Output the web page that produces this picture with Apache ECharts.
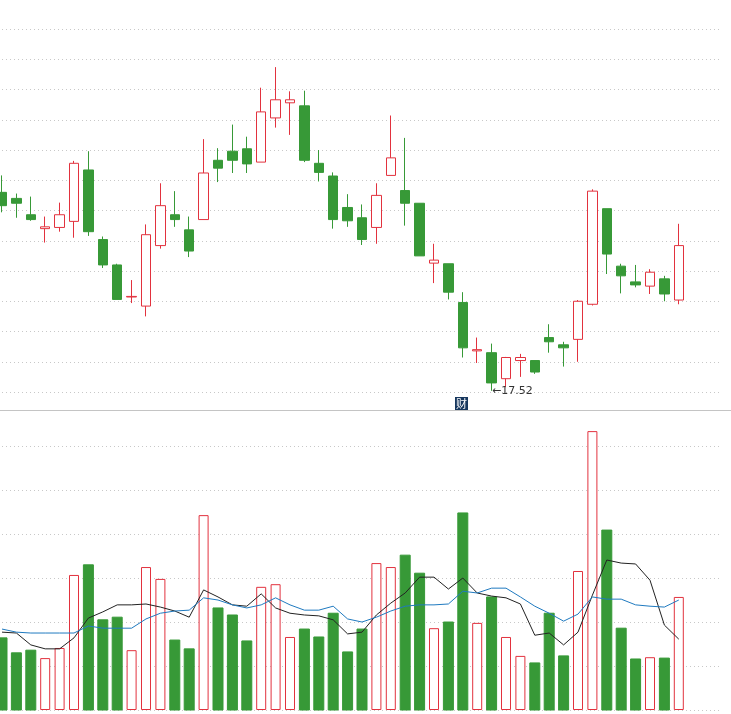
<!DOCTYPE html>
<html><head><meta charset="utf-8">
<script src="https://cdn.jsdelivr.net/npm/echarts@6/dist/echarts.min.js"></script>
<style>html,body{margin:0;padding:0;background:#fff}#c{width:731px;height:714px}</style>
</head><body><div id="c"></div>
<script>
// [open, close, low, high]
const candles = [
[20.80,20.58,20.47,21.08],[20.70,20.62,20.38,20.78],[20.43,20.35,20.33,20.73],[20.20,20.23,19.97,20.40],
[20.22,20.43,20.15,20.63],[20.32,21.28,20.05,21.32],[21.17,20.15,20.08,21.48],[20.02,19.60,19.55,20.07],
[19.60,19.03,19.03,19.62],[19.07,19.08,18.97,19.35],[18.92,20.10,18.75,20.27],[19.92,20.58,19.87,20.95],
[20.43,20.35,20.23,20.82],[20.18,19.83,19.73,20.40],[20.35,21.12,20.35,21.68],[21.33,21.20,20.97,21.53],
[21.48,21.33,21.12,21.92],[21.52,21.27,21.12,21.72],[21.30,22.13,21.30,22.53],[22.03,22.33,21.87,22.87],
[22.28,22.33,21.75,22.47],[22.23,21.33,21.30,22.48],[21.28,21.13,20.98,21.50],[21.07,20.35,20.20,21.13],
[20.55,20.33,20.23,20.77],[20.38,20.02,19.93,20.60],[20.22,20.75,19.95,20.95],[21.08,21.37,21.08,22.07],
[20.83,20.62,20.25,21.70],[20.62,19.75,19.75,20.62],[19.63,19.68,19.30,19.95],[19.62,19.15,19.03,19.62],
[18.98,18.23,18.07,19.15],[18.18,18.20,17.98,18.40],[18.15,17.65,17.52,18.30],[17.72,18.07,17.58,18.08],
[18.02,18.07,17.75,18.13],[18.02,17.83,17.80,18.02],[18.40,18.33,18.15,18.62],[18.28,18.23,17.92,18.33],
[18.37,19.00,18.00,19.02],[18.95,20.82,18.93,20.85],[20.53,19.78,19.45,20.53],[19.58,19.42,19.13,19.62],
[19.32,19.27,19.23,19.60],[19.25,19.48,19.12,19.53],[19.37,19.12,19.00,19.42],[19.02,19.92,18.95,20.28]
];
const volumes = [1.64,1.30,1.36,1.18,1.41,3.07,3.30,2.05,2.11,1.36,3.25,2.98,1.59,1.39,4.43,2.32,2.16,1.57,2.80,2.86,1.66,1.84,1.66,2.20,1.32,1.84,
3.34,3.25,3.52,3.11,1.86,2.00,4.48,1.98,2.57,1.66,1.23,1.07,2.20,1.23,3.16,6.34,4.09,1.86,1.16,1.20,1.18,2.57];
const volMA5 = [1.77,1.75,1.48,1.39,1.39,1.64,2.09,2.23,2.39,2.39,2.41,2.34,2.25,2.11,2.73,2.57,2.39,2.36,2.64,2.32,2.20,2.16,2.14,2.05,1.73,1.77,
2.16,2.43,2.66,3.02,3.02,2.75,3.00,2.66,2.59,2.55,2.41,1.70,1.75,1.48,1.77,2.61,3.41,3.34,3.32,2.95,1.93,1.61];
const volMA10 = [1.84,1.77,1.75,1.75,1.75,1.75,1.91,1.86,1.86,1.86,2.07,2.20,2.25,2.27,2.55,2.50,2.39,2.32,2.39,2.55,2.39,2.27,2.27,2.36,2.07,2.00,
2.11,2.25,2.36,2.39,2.39,2.41,2.70,2.66,2.77,2.77,2.57,2.36,2.20,2.02,2.18,2.57,2.52,2.52,2.39,2.36,2.34,2.50];
const lowLabel = '←17.52';
const emptySlots = 3;
const cats = candles.map((_, i) => 'D' + (i + 1)).concat(Array.from({length: emptySlots}, (_, i) => 'E' + i));
const UP = '#e2323e', DOWN = '#379937';
const chart = echarts.init(document.getElementById('c'));
const split = {show:true, lineStyle:{type:[1,3], color:'#c8c8c8'}};
chart.setOption({
  animation:false, backgroundColor:'#fff',
  grid:[{left:2,right:9,top:29,height:363},{left:2,right:9,top:410,height:300}],
  xAxis:[
    {type:'category',data:cats,gridIndex:0,boundaryGap:false,show:false},
    {type:'category',data:cats,gridIndex:1,boundaryGap:false,show:false}
  ],
  yAxis:[
    {gridIndex:0,min:17.5,max:23.5,interval:0.5,axisLabel:{show:false},axisLine:{show:false},axisTick:{show:false},splitLine:split},
    {gridIndex:1,min:0,max:6.82,interval:1,axisLabel:{show:false},axisLine:{show:false},axisTick:{show:false},
     splitLine:{show:true,lineStyle:{type:[1,3],color:'#c8c8c8'}}}
  ],
  series:[
    {type:'candlestick',data:candles,xAxisIndex:0,yAxisIndex:0,barWidth:10,
     itemStyle:{color:'#fff',borderColor:UP,color0:DOWN,borderColor0:DOWN,borderWidth:1},
     markPoint:{symbol:'circle',symbolSize:1,itemStyle:{color:'rgba(0,0,0,0)'},
       data:[{coord:[34,17.52],label:{show:true,position:'right',distance:0,formatter:lowLabel,color:'#333',fontSize:11,fontFamily:'DejaVu Sans'}}]}},
    {type:'bar',data:volumes.map((v,i)=>{const up=candles[i][1]>=candles[i][0];
       return {value:v,itemStyle:up?{color:'#fff',borderColor:UP,borderWidth:1}:{color:DOWN,borderColor:DOWN}};}),
     xAxisIndex:1,yAxisIndex:1,barWidth:10},
    {type:'line',data:volMA5,xAxisIndex:1,yAxisIndex:1,symbol:'none',lineStyle:{color:'#222',width:1}},
    {type:'line',data:volMA10,xAxisIndex:1,yAxisIndex:1,symbol:'none',lineStyle:{color:'#1f7ac0',width:1}}
  ],
  graphic:[
    {type:'rect',left:0,top:410,shape:{x:0,y:0,width:731,height:1},style:{fill:'#c4c4c4'},z:10},
    {type:'group',left:455,top:397,z:11,children:[
    {type:'rect',shape:{x:0,y:0,width:13,height:13},style:{fill:'#17375e'}},
    {type:'text',x:6.5,y:7,style:{text:'财',fill:'#fff',fontSize:11,align:'center',verticalAlign:'middle',fontFamily:'Noto Sans CJK SC'}}
  ]}]
});
</script></body></html>
